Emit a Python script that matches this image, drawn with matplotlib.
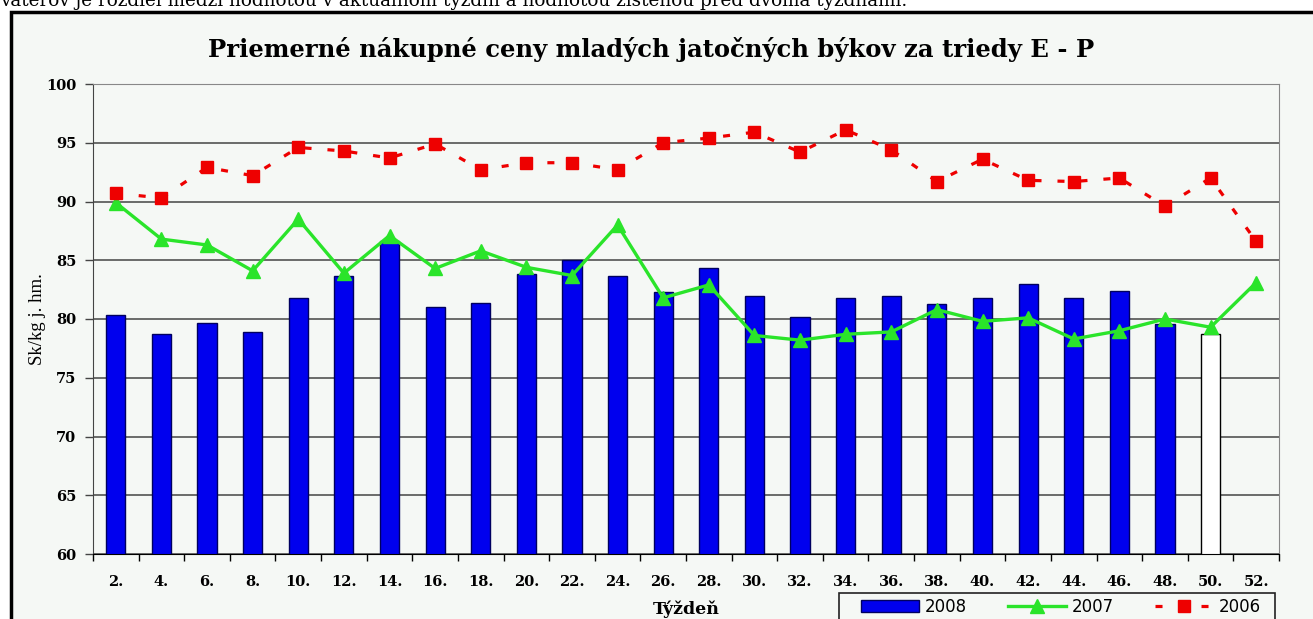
import numpy as np
import matplotlib.pyplot as plt
from matplotlib.patches import Rectangle
from matplotlib.lines import Line2D

# data
weeks = ['2.', '4.', '6.', '8.', '10.', '12.', '14.', '16.', '18.', '20.', '22.', '24.', '26.',
         '28.', '30.', '32.', '34.', '36.', '38.', '40.', '42.', '44.', '46.', '48.', '50.', '52.']
bars_2008 = [80.3, 78.7, 79.7, 78.9, 81.8, 83.7, 86.6, 81.0, 81.4, 83.8, 85.0, 83.7, 82.3,
             84.3, 82.0, 80.2, 81.8, 82.0, 81.3, 81.8, 83.0, 81.8, 82.4, 79.6, 78.7, np.nan]
line_2007 = [89.9, 86.8, 86.3, 84.1, 88.5, 83.9, 87.1, 84.3, 85.8, 84.4, 83.7, 88.0, 81.8,
             82.9, 78.6, 78.2, 78.7, 78.9, 80.8, 79.8, 80.1, 78.3, 79.0, 80.0, 79.3, 83.1]
line_2006 = [90.7, 90.3, 92.9, 92.2, 94.6, 94.3, 93.7, 94.9, 92.7, 93.3, 93.3, 92.7, 95.0,
             95.4, 95.9, 94.2, 96.1, 94.4, 91.7, 93.6, 91.8, 91.7, 92.0, 89.6, 92.0, 86.6]
y_ticks = [60, 65, 70, 75, 80, 85, 90, 95, 100]

W, H = 1313, 619
bg = '#f5f8f5'
blue = '#0000ee'
green = '#2ae42a'
red = '#ee0000'
dash = (0, (2.2, 5.0))

fig = plt.figure(figsize=(W / 100, H / 100), dpi=100)
fig.patch.set_facecolor('white')

# cut-off line of text above the chart box (it is cut in the reference too)
fig.text(0.0, 1 - 6 / H,
         'vaterov je rozdiel medzi hodnotou v aktuálnom týždni a hodnotou zistenou pred dvoma týždňami.',
         family='DejaVu Serif', fontsize=13.2, va='baseline', ha='left')

# chart box (runs past right and bottom edge)
box = Rectangle((11 / W, -0.2), 1.2, 1.2 - 12 / H, transform=fig.transFigure,
                facecolor=bg, edgecolor='black', lw=2.5, zorder=-1)
fig.add_artist(box)

fig.text(651 / W, 1 - 49 / H, 'Priemerné nákupné ceny mladých jatočných býkov za triedy E - P',
         family='DejaVu Serif', fontweight='bold', fontsize=17.5, ha='center', va='center')

ax = fig.add_axes([93 / W, 1 - 554 / H, (1279 - 93) / W, (554 - 84) / H])
ax.set_facecolor(bg)
x = np.arange(len(weeks))

bars = ax.bar(x, bars_2008, width=0.42, color=blue, edgecolor='#000060', lw=1, zorder=2)
bars[weeks.index('50.')].set_facecolor('white')
bars[weeks.index('50.')].set_edgecolor('black')

ax.plot(x, line_2007, color=green, lw=2.4, marker='^', ms=10, zorder=3)
ax.plot(x, line_2006, color=red, lw=2.3, ls=dash, marker='s', ms=8.5, zorder=3)

ax.set_xlim(-0.5, len(weeks) - 0.5)
ax.set_ylim(60, 100)
ax.set_yticks(y_ticks)
ax.set_yticklabels([str(v) for v in y_ticks], family='DejaVu Serif', fontweight='bold', fontsize=10.5)
ax.yaxis.grid(True, color='#444444', lw=1.1)
ax.set_axisbelow(True)
ax.tick_params(axis='y', length=6, width=1, color='#444444', pad=6)

ax.set_xticks(x)
ax.set_xticklabels(weeks, family='DejaVu Serif', fontweight='bold', fontsize=10.5)
ax.set_xticks(np.arange(-0.5, len(weeks)), minor=True)
ax.tick_params(axis='x', which='major', length=0, pad=15)
ax.tick_params(axis='x', which='minor', length=5, width=1, color='black')

for side in ['top', 'right']:
    ax.spines[side].set_color('#888888')
ax.spines['left'].set_color('#444444')
ax.spines['bottom'].set_color('black')

fig.text(38 / W, 1 - 319 / H, 'Sk/kg j. hm.', family='Liberation Serif', fontsize=13.5,
         rotation=90, ha='center', va='center')
fig.text(686 / W, 1 - 609 / H, 'Týždeň', family='DejaVu Serif', fontweight='bold',
         fontsize=12.5, ha='center', va='center')

# legend with its own frame, cut off at the bottom like the reference
frame = Rectangle((839 / W, -0.1), (1275 - 839) / W, 0.1 + 1 - 593 / H,
                  transform=fig.transFigure, facecolor=bg, edgecolor='#222222', lw=1.2, zorder=4)
fig.add_artist(frame)
handles = [Rectangle((0, 0), 1, 1, facecolor=blue, edgecolor='#000060'),
           Line2D([], [], color=green, lw=2.4, marker='^', ms=10),
           Line2D([], [], color=red, lw=2.3, ls=dash, marker='s', ms=8.5)]
leg = fig.legend(handles, ['2008', '2007', '2006'], loc='center left', ncol=3,
                 bbox_to_anchor=(861 / W, 1 - 607 / H), frameon=False,
                 prop={'family': 'DejaVu Sans', 'size': 12}, handlelength=3.5,
                 handletextpad=0.3, columnspacing=2.5, borderaxespad=0, borderpad=0)
leg.set_zorder(5)

fig.savefig('out.png', dpi=100, facecolor='white')
